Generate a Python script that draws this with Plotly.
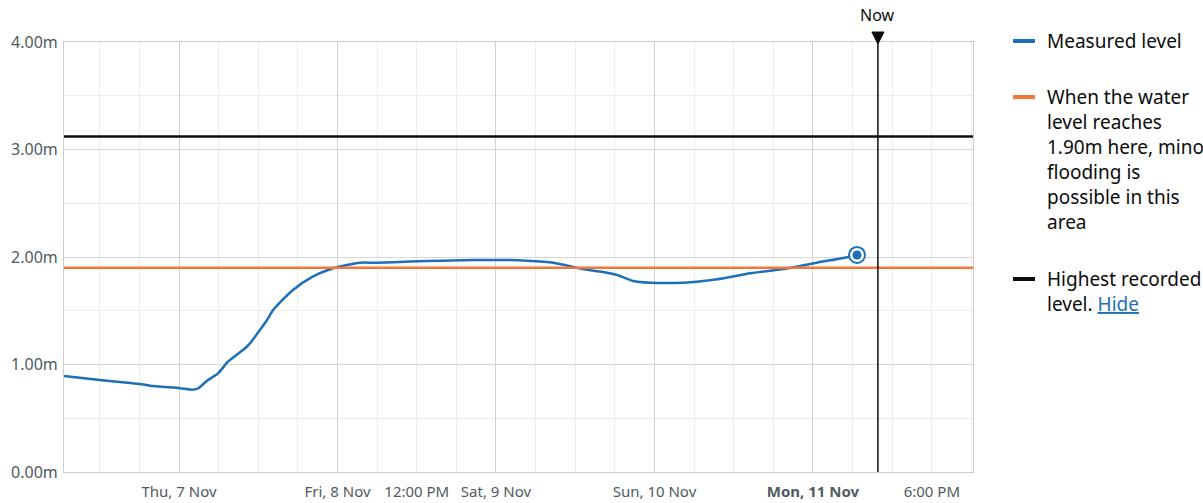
import plotly.graph_objects as go

# ---- data ----
measured_times = [
    "2024-11-06 06:35", "2024-11-06 12:00", "2024-11-06 18:05", "2024-11-06 19:35",
    "2024-11-07 00:10", "2024-11-07 02:05", "2024-11-07 02:55", "2024-11-07 04:15",
    "2024-11-07 05:55", "2024-11-07 07:25", "2024-11-07 10:00", "2024-11-07 10:45",
    "2024-11-07 12:15", "2024-11-07 13:20", "2024-11-07 14:15", "2024-11-07 17:15",
    "2024-11-07 20:15", "2024-11-07 23:20", "2024-11-08 01:25", "2024-11-08 03:25",
    "2024-11-08 06:00", "2024-11-08 11:00", "2024-11-08 16:00", "2024-11-08 21:05",
    "2024-11-09 02:05", "2024-11-09 04:40", "2024-11-09 08:40", "2024-11-09 13:10",
    "2024-11-09 15:45", "2024-11-09 18:20", "2024-11-09 20:45", "2024-11-09 23:20",
    "2024-11-10 04:20", "2024-11-10 09:30", "2024-11-10 14:30", "2024-11-10 19:30",
    "2024-11-11 00:35", "2024-11-11 05:35", "2024-11-11 06:40",
]
measured_values = [
    0.893, 0.856, 0.819, 0.803,
    0.779, 0.766, 0.779, 0.849,
    0.918, 1.026, 1.151, 1.197,
    1.321, 1.414, 1.507, 1.693,
    1.817, 1.895, 1.926, 1.947,
    1.947, 1.957, 1.966, 1.972,
    1.972, 1.966, 1.947, 1.888,
    1.865, 1.833, 1.777, 1.761,
    1.761, 1.793, 1.848, 1.888,
    1.947, 2.003, 2.019,
]
flood_threshold = 1.90
highest_recorded = 3.12
now_time = "2024-11-11 09:50"
x_range = ["2024-11-06 06:35", "2024-11-12 00:14"]
y_range = [0, 4]
y_ticks = [0, 1, 2, 3, 4]
y_tick_text = ["0.00m", "1.00m", "2.00m", "3.00m", "4.00m"]
day_ticks = ["2024-11-07", "2024-11-08", "2024-11-09", "2024-11-10", "2024-11-11"]
x_label_vals = ["2024-11-07", "2024-11-08", "2024-11-08 12:00", "2024-11-09",
                "2024-11-10", "2024-11-11", "2024-11-11 18:00"]
x_label_text = ["Thu, 7 Nov", "Fri, 8 Nov", "12:00 PM", "Sat, 9 Nov",
                "Sun, 10 Nov", "<b>Mon, 11 Nov</b>", "6:00 PM"]

BLUE = "#1d70b8"
ORANGE = "#f47738"
BLACK = "#0b0c0c"
FONT = "Noto Sans"
GREY_TXT = "#505a5f"

fig = go.Figure()

fig.add_trace(go.Scatter(
    x=measured_times, y=measured_values, mode="lines",
    line=dict(color=BLUE, width=2.5, shape="spline", smoothing=0.6),
    xaxis="x", yaxis="y", showlegend=False, hoverinfo="skip"))

# latest reading marker
fig.add_trace(go.Scatter(
    x=[measured_times[-1]], y=[measured_values[-1]], mode="markers",
    marker=dict(size=16, color="white", line=dict(color=BLUE, width=2)),
    showlegend=False, hoverinfo="skip", cliponaxis=False))
fig.add_trace(go.Scatter(
    x=[measured_times[-1]], y=[measured_values[-1]], mode="markers",
    marker=dict(size=9, color=BLUE),
    showlegend=False, hoverinfo="skip", cliponaxis=False))

# dummy trace on overlay axis so its grid draws
fig.add_trace(go.Scatter(x=x_range, y=y_range, xaxis="x2", yaxis="y",
                         mode="lines", line=dict(width=0), showlegend=False,
                         hoverinfo="skip", opacity=0))

shapes = [
    dict(type="line", xref="paper", yref="y", x0=0, x1=1,
         y0=flood_threshold, y1=flood_threshold,
         line=dict(color=ORANGE, width=2.5), layer="above"),
    dict(type="line", xref="paper", yref="y", x0=0, x1=1,
         y0=highest_recorded, y1=highest_recorded,
         line=dict(color=BLACK, width=2.5), layer="above"),
    dict(type="line", xref="x", yref="paper", x0=now_time, x1=now_time,
         y0=0, y1=1.0, line=dict(color=BLACK, width=1.5), layer="above"),
    # "Now" triangle pointer
    dict(type="path", xref="x", yref="paper", xsizemode="pixel",
         ysizemode="pixel", xanchor=now_time, yanchor=1,
         path="M -6,10 L 6,10 L 0,-2 Z", fillcolor=BLACK,
         line=dict(color=BLACK, width=1), layer="above"),
]

# legend (custom, wraps text)
legend_items = [
    (BLUE, ["Measured level"]),
    (ORANGE, ["When the water", "level reaches", "1.90m here, minor",
              "flooding is", "possible in this", "area"]),
    (BLACK, ["Highest recorded",
             "level. <span style='color:#1d70b8'><u>Hide</u></span>"]),
]
legend_first_y = [41, 97, 279]  # pixel rows of first line in each item
annotations = []
plot_top, plot_h = 42, 430
for (col, lines), py in zip(legend_items, legend_first_y):
    yp = (plot_top + plot_h - py) / plot_h
    shapes.append(dict(type="line", xref="paper", yref="paper",
                       x0=(1013 - 64) / 909, x1=(1035 - 64) / 909, y0=yp, y1=yp,
                       line=dict(color=col, width=4)))
    for i, t in enumerate(lines):
        annotations.append(dict(
            xref="paper", yref="paper", x=(1047 - 64) / 909, y=yp,
            yshift=-25 * i, xshift=-2, text=t, showarrow=False, xanchor="left",
            yanchor="middle", font=dict(family=FONT, size=19, color=BLACK)))

annotations.append(dict(xref="x", yref="paper", x=now_time, y=1, yshift=27,
                        text="Now", showarrow=False, xanchor="center",
                        yanchor="middle",
                        font=dict(family=FONT, size=16, color=BLACK)))

fig.update_layout(
    width=1203, height=503,
    margin=dict(l=64, r=230, t=42, b=31),
    paper_bgcolor="white", plot_bgcolor="white",
    font=dict(family=FONT, size=15, color=GREY_TXT),
    shapes=shapes, annotations=annotations,
    xaxis=dict(
        type="date", range=x_range, tickvals=x_label_vals, ticktext=x_label_text,
        showgrid=False, zeroline=False, showline=True, linecolor="#cccccc",
        linewidth=1, mirror=True, ticks="", automargin=False,
        ticklabelstandoff=6,
        minor=dict(dtick=6 * 3600 * 1000, tick0="2024-11-07", showgrid=True,
                   gridcolor="#ececec", gridwidth=1),
        tickfont=dict(family=FONT, size=15, color=GREY_TXT),
    ),
    xaxis2=dict(
        type="date", range=x_range, overlaying="x", tickvals=day_ticks,
        showticklabels=False, showgrid=True, gridcolor="#d2d2d2", gridwidth=1,
        zeroline=False, showline=False, ticks="", automargin=False,
    ),
    yaxis=dict(
        range=y_range, tickvals=y_ticks, ticktext=y_tick_text,
        showgrid=True, gridcolor="#d7d7d7", gridwidth=1, zeroline=False,
        showline=True, linecolor="#cccccc", mirror=True, ticks="",
        ticklabelstandoff=2, automargin=False,
        minor=dict(dtick=0.5, showgrid=True, gridcolor="#ececec"),
        tickfont=dict(family=FONT, size=16, color=GREY_TXT),
    ),
)

fig.write_html("out.html", config={"displayModeBar": False},
               post_script="document.body.style.margin='0';")
